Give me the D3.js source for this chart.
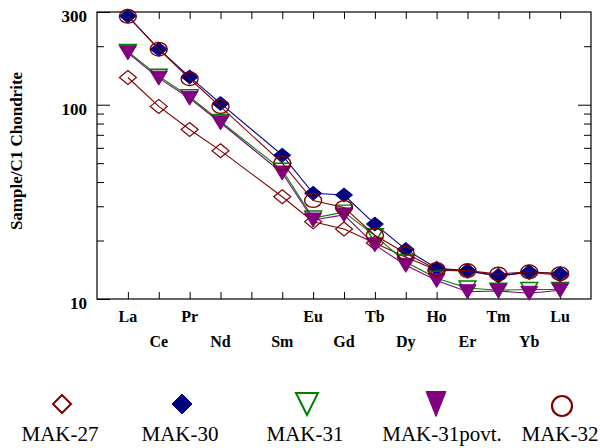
<!DOCTYPE html>
<html>
<head>
<meta charset="utf-8">
<script src="https://cdn.jsdelivr.net/npm/d3@7"></script>
</head>
<body style="margin:0;padding:0;background:#fff">
<svg id="chart" width="600" height="448" font-family="Liberation Serif" style="display:block"></svg>
<script>
// ---- data ----
const elements = ["La","Ce","Pr","Nd","Pm","Sm","Eu","Gd","Tb","Dy","Ho","Er","Tm","Yb","Lu"];
const labelledElements = ["La","Ce","Pr","Nd","Sm","Eu","Gd","Tb","Dy","Ho","Er","Tm","Yb","Lu"];
const yTickLabels = [10, 100, 300];
const yMinorTicks = [20, 30, 40, 50, 60, 70, 80, 90, 200];

const mak27      = [138, 98, 74.6, 58, null, 33.6, 25.0, 22.9, 19.4, 16.4, 14.1, 13.9, 13.2, 13.7, 13.3];
const mak30      = [286, 193, 139, 101.5, null, 55, 35, 34.3, 24.3, 18.0, 14.4, 14.0, 13.1, 13.8, 13.5];
const mak31      = [188, 140, 110, 82, null, 46, 26.1, 28, 21.2, 15.5, 12.8, 11.4, 11.1, 11.2, 11.2];
const mak31povt  = [185, 137, 108, 80.7, null, 44.5, 25.5, 27.1, 19.0, 14.9, 12.45, 10.9, 11.0, 10.7, 11.1];
const mak32      = [285, 193, 136, 97.8, null, 50, 32.1, 29.6, 21.3, 17.2, 14.2, 14.0, 13.45, 13.8, 13.5];

const seriesNames = ["MAK-27", "MAK-30", "MAK-31", "MAK-31povt.", "MAK-32"];
const seriesValues = [mak27, mak30, mak31, mak31povt, mak32];

// ---- styles ----
const FONT = "Liberation Serif";
const styles = [
  { color: "#800000", shape: "diamond",  fill: "none",    sw: 1.2 },
  { color: "#000080", shape: "diamond",  fill: "#000080", sw: 1.0 },
  { color: "#008000", shape: "triangle", fill: "none",    sw: 1.4 },
  { color: "#800080", shape: "triangle", fill: "#800080", sw: 1.0 },
  { color: "#800000", shape: "circle",   fill: "none",    sw: 1.4 }
];

const svg = d3.select("#chart");
const pLeft = 97, pRight = 591, pTop = 12, pBottom = 299;

const x = d3.scaleLinear().domain([-1, 15]).range([pLeft, pRight]);
const y = d3.scaleLog().domain([10, 300]).range([pBottom, pTop]);

function shapePath(shape, w, h) {
  if (shape === "diamond") return `M0,${-h/2}L${w/2},0L0,${h/2}L${-w/2},0Z`;
  if (shape === "triangle") return `M${-w/2},${-h/2}L${w/2},${-h/2}L0,${h/2}Z`;
  return null;
}

// ---- axes ----
const idx = d3.range(elements.length);
const axisFmt = () => "";

svg.append("g").attr("transform", `translate(0,${pBottom})`)
  .call(d3.axisBottom(x).tickValues(idx).tickSize(-7).tickFormat(axisFmt));
svg.append("g").attr("transform", `translate(0,${pTop})`)
  .call(d3.axisTop(x).tickValues(idx).tickSize(-7).tickFormat(axisFmt));

svg.append("g").attr("transform", `translate(${pLeft},0)`)
  .call(d3.axisLeft(y).tickValues(yMinorTicks).tickSize(-7).tickFormat(axisFmt));
svg.append("g").attr("transform", `translate(${pRight},0)`)
  .call(d3.axisRight(y).tickValues(yMinorTicks).tickSize(-7).tickFormat(axisFmt));
svg.append("g").attr("transform", `translate(${pRight},0)`)
  .call(d3.axisRight(y).tickValues([100]).tickSize(-13).tickFormat(axisFmt));

const yAxisMajor = svg.append("g").attr("transform", `translate(${pLeft},0)`)
  .call(d3.axisLeft(y).tickValues(yTickLabels).tickSize(-13).tickPadding(10).tickFormat(d3.format("d")));
yAxisMajor.attr("font-family", FONT).attr("font-size", 17).attr("font-weight", "bold");
yAxisMajor.selectAll("text").attr("dy", "0.55em").attr("fill", "#000");

svg.selectAll(".domain").remove();
svg.selectAll(".tick line").attr("stroke", "#000").attr("stroke-width", 1);

svg.append("rect")
  .attr("x", pLeft).attr("y", pTop)
  .attr("width", pRight - pLeft).attr("height", pBottom - pTop)
  .attr("fill", "none").attr("stroke", "#000").attr("stroke-width", 1.2);

// x labels, two staggered rows
svg.append("g")
  .attr("font-family", FONT).attr("font-size", 16).attr("font-weight", "bold")
  .selectAll("text")
  .data(labelledElements)
  .join("text")
  .attr("x", d => x(elements.indexOf(d)))
  .attr("y", d => elements.indexOf(d) % 2 === 0 ? 322 : 347)
  .attr("text-anchor", "middle")
  .text(d => d);

// y title
svg.append("text")
  .attr("transform", "translate(22,151) rotate(-90)")
  .attr("text-anchor", "middle")
  .attr("font-family", FONT).attr("font-size", 17).attr("font-weight", "bold")
  .text("Sample/C1 Chondrite");

// ---- series ----
const plot = svg.append("g");
seriesValues.forEach((vals, si) => {
  const st = styles[si];
  const pts = vals.map((v, i) => ({ i, v })).filter(p => p.v != null);
  const g = plot.append("g");
  g.append("path")
    .datum(pts)
    .attr("fill", "none")
    .attr("stroke", st.color)
    .attr("stroke-width", 1.1)
    .attr("d", d3.line().x(p => x(p.i)).y(p => y(p.v)));
  if (st.shape === "circle") {
    g.selectAll("ellipse").data(pts).join("ellipse")
      .attr("cx", p => x(p.i)).attr("cy", p => y(p.v))
      .attr("rx", 8.5).attr("ry", 6.8)
      .attr("fill", st.fill).attr("stroke", st.color).attr("stroke-width", st.sw);
  } else {
    const w = 17, h = 14;
    g.selectAll("path.m").data(pts).join("path")
      .attr("class", "m")
      .attr("transform", p => `translate(${x(p.i)},${y(p.v)})`)
      .attr("d", shapePath(st.shape, w, h))
      .attr("fill", st.fill).attr("stroke", st.color).attr("stroke-width", st.sw);
  }
});

// ---- legend ----
const legendMarkerX = [62, 182, 307, 436, 562];
const legendTextX = [60, 180, 305, 442, 560];
const legendSizes = [[18, 18], [20, 20], [22, 22], [20, 25], [10, 10]];
const legend = svg.append("g").attr("font-family", FONT).attr("font-size", 21);
seriesNames.forEach((name, si) => {
  const st = styles[si];
  const [w, h] = legendSizes[si];
  const cy = 404;
  if (st.shape === "circle") {
    legend.append("ellipse")
      .attr("cx", legendMarkerX[si]).attr("cy", cy + 2)
      .attr("rx", w).attr("ry", h)
      .attr("fill", "none").attr("stroke", st.color).attr("stroke-width", 2.2);
  } else {
    legend.append("path")
      .attr("transform", `translate(${legendMarkerX[si]},${cy})`)
      .attr("d", shapePath(st.shape, w, h))
      .attr("fill", st.fill).attr("stroke", st.color)
      .attr("stroke-width", st.fill === "none" ? 2 : 1);
  }
  legend.append("text")
    .attr("x", legendTextX[si]).attr("y", 441)
    .attr("text-anchor", "middle")
    .text(name);
});
</script>
</body>
</html>
